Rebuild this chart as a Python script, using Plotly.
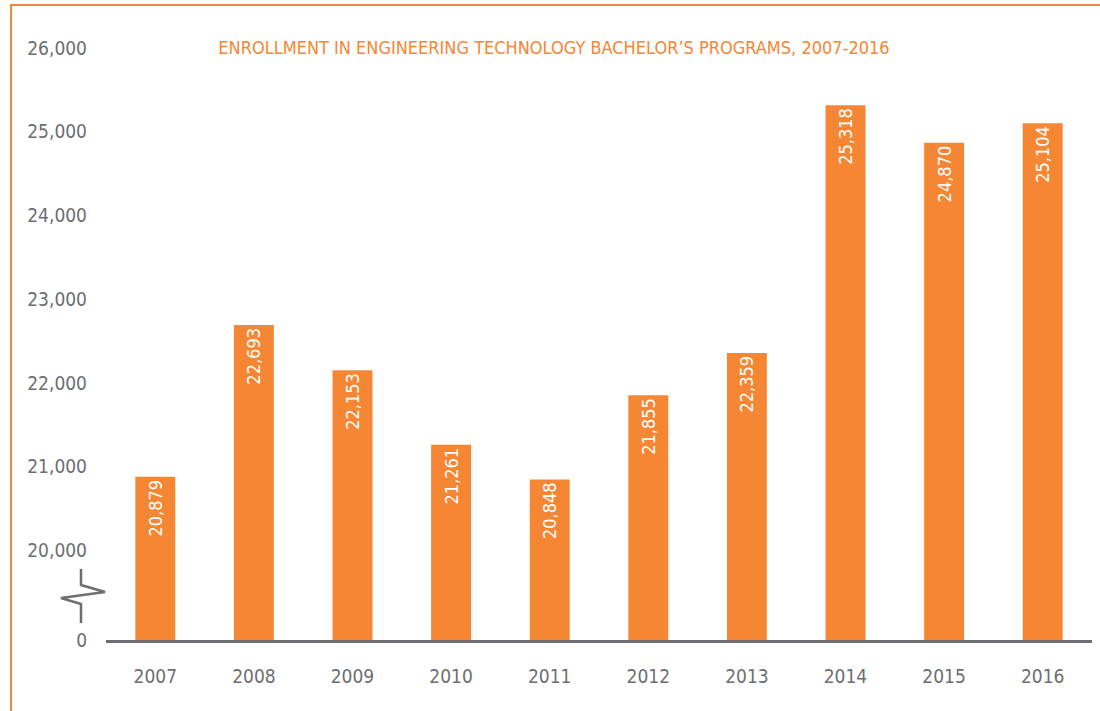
import plotly.graph_objects as go

# ---- data ----
years = ["2007", "2008", "2009", "2010", "2011", "2012", "2013", "2014", "2015", "2016"]
enrollment = [20879, 22693, 22153, 21261, 20848, 21855, 22359, 25318, 24870, 25104]
tick_values = [0, 20000, 21000, 22000, 23000, 24000, 25000, 26000]
title_text = "ENROLLMENT IN ENGINEERING TECHNOLOGY BACHELOR\u2019S PROGRAMS, 2007-2016"

# ---- broken-axis scale: 0 sits a little below 20,000 ----
BREAK_LOW = 20000
BREAK_GAP = 1.07  # axis units between "0" and "20,000"


def scale(v):
    if v <= 0:
        return -BREAK_GAP
    return (v - BREAK_LOW) / 1000.0


ORANGE = "#f58634"
GRAY = "#6d6e71"
FONT = "Liberation Sans Narrow, DejaVu Sans Condensed, Arial Narrow, sans-serif"

W, H = 1100, 711
ML, MR, MT, MB = 106, 8, 23, 71
Y_TOP = 6.3


def px_to_paper(x, y):
    pw = W - ML - MR
    ph = H - MT - MB
    return (x - ML) / pw, (H - MB - y) / ph


def px_to_data_y(y):
    ph = H - MT - MB
    span = Y_TOP + BREAK_GAP
    return -BREAK_GAP + (H - MB - y) / ph * span


fig = go.Figure()
fig.add_trace(go.Bar(
    x=years,
    y=[scale(v) - scale(0) for v in enrollment],
    base=scale(0),
    marker=dict(color=ORANGE, line=dict(width=0)),
    text=[f"{v:,}" for v in enrollment],
    textposition="inside",
    insidetextanchor="end",
    textangle=-90,
    textfont=dict(family=FONT, size=18, color="white"),
    cliponaxis=False,
    hoverinfo="skip",
))

shapes = []
# axis break zigzag
zig_px = [(81, 569), (81, 585), (105, 592), (61, 598), (81, 604), (81, 623)]
path = ""
for i, (px, py) in enumerate(zig_px):
    xp, _ = px_to_paper(px, py)
    yd = px_to_data_y(py)
    path += ("M" if i == 0 else "L") + f"{xp},{yd} "
shapes.append(dict(type="path", xref="paper", yref="y", path=path.strip(),
                   line=dict(color=GRAY, width=2.5), layer="above"))
# orange frame (left and top)
p1 = px_to_paper(11, 711)
p2 = px_to_paper(11, 5)
p3 = px_to_paper(1100, 5)
shapes.append(dict(type="path", xref="paper", yref="paper",
                   path=f"M{p1[0]},{p1[1]} L{p2[0]},{p2[1]} L{p3[0]},{p3[1]}",
                   line=dict(color=ORANGE, width=2), layer="above"))

fig.update_layout(
    width=W, height=H,
    margin=dict(l=ML, r=MR, t=MT, b=MB),
    paper_bgcolor="white",
    plot_bgcolor="rgba(0,0,0,0)",
    showlegend=False,
    bargap=0.595,
    title=dict(text=title_text, x=554 / W, xref="container", xanchor="center",
               y=1 - 48 / H, yref="container", yanchor="middle",
               font=dict(family=FONT, size=18, color=ORANGE)),
    shapes=shapes,
    xaxis=dict(
        range=[-0.5, len(years) - 0.5],
        showgrid=False, zeroline=False,
        showline=True, linecolor=GRAY, linewidth=3,
        ticks="", ticklabelstandoff=17,
        tickfont=dict(family=FONT, size=19, color=GRAY),
    ),
    yaxis=dict(
        range=[-BREAK_GAP, Y_TOP],
        showgrid=False, zeroline=False, showline=False,
        tickmode="array",
        tickvals=[scale(v) for v in tick_values],
        ticktext=[f"{v:,}" for v in tick_values],
        ticks="", ticklabelstandoff=18,
        tickfont=dict(family=FONT, size=19, color=GRAY),
    ),
)

fig.write_html("out.html", config={"displayModeBar": False},
               post_script="document.body.style.margin='0';")
